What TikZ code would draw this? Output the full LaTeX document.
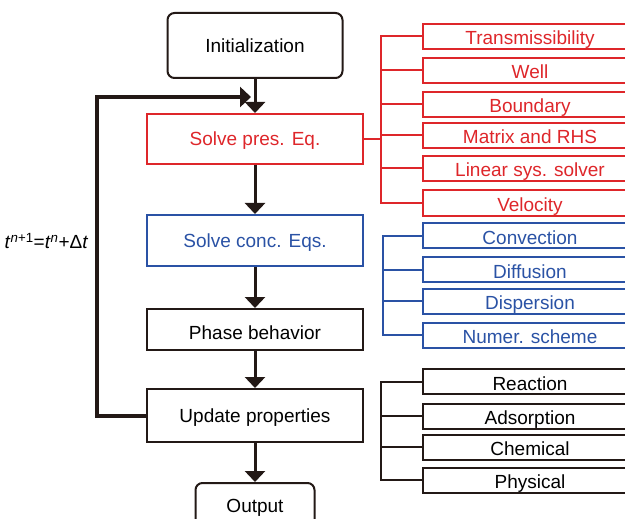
\documentclass[tikz,border=0pt]{standalone}
\usepackage{fontspec}
\setmainfont{Liberation Sans}
\usetikzlibrary{arrows.meta}
\definecolor{presred}{RGB}{222,38,42}
\definecolor{concblue}{RGB}{42,82,165}
\definecolor{boxblack}{RGB}{35,25,22}
\begin{document}
\begin{tikzpicture}[x=1pt,y=-1pt,
  font=\fontsize{19}{20}\selectfont,
  mainbox/.style={draw=boxblack,line width=2pt,minimum width=216pt,inner sep=0pt,text height=14pt,text depth=0pt},
  subbox/.style={draw,line width=2pt,minimum width=214pt,minimum height=25pt,inner sep=0pt,text height=17pt,text depth=0pt},
  flow/.style={line width=3pt,boxblack,-{Triangle[width=20pt,length=11pt]}},
  branch/.style={line width=2pt}]
  \useasboundingbox (0,0) rectangle (625,519);
  \clip (0,0) rectangle (625,519);
  % main chain
  \node[mainbox,rounded corners=7pt,minimum width=175pt,minimum height=65pt] (init) at (255,45.5) {Initialization};
  \node[mainbox,draw=presred,text=presred,minimum height=50pt] (pres) at (255,139) {Solve pres. Eq.};
  \node[mainbox,draw=concblue,text=concblue,minimum height=51pt] (conc) at (255,240.5) {Solve conc. Eqs.};
  \node[mainbox,minimum height=41pt,text height=20pt] (phase) at (255,329.5) {Phase behavior};
  \node[mainbox,minimum height=53pt] (update) at (255,415.5) {Update properties};
  \node[mainbox,rounded corners=7pt,minimum width=119pt,minimum height=44pt] (output) at (255,505) {Output};
  \draw[flow] (init) -- (pres);
  \draw[flow] (pres) -- (conc);
  \draw[flow] (conc) -- (phase);
  \draw[flow] (phase) -- (update);
  \draw[flow] (update) -- (output);
  % time loop
  \coordinate (loopend) at (251,97);
  \draw[flow,line width=4pt] (update.west) -- (97,415.5) -- (97,97) -- (loopend);
  \node (timestep) at (46.5,241) {\textit{t}\textsuperscript{\textit{n}+1}=\textit{t}\textsuperscript{\textit{n}}+Δ\textit{t}};
  % pressure sub-steps
  \begin{scope}[presred]
  \node[subbox,text=presred] (trans) at (530,36.5) {Transmissibility};
  \node[subbox,text=presred] (well) at (530,70.5) {Well};
  \node[subbox,text=presred] (bound) at (530,104.5) {Boundary};
  \node[subbox,text=presred] (matrix) at (530,135.5) {Matrix and RHS};
  \node[subbox,text=presred] (linsolve) at (530,168.5) {Linear sys. solver};
  \node[subbox,text=presred] (veloc) at (530,203) {Velocity};
  \coordinate (presbar) at (381,139);
  \draw[branch] (pres.east) -- (presbar);
  \draw[branch] (trans.west) -| (381,36.5) |- (veloc.west);
  \draw[branch] (well.west) -- (381,70.5);
  \draw[branch] (bound.west) -- (381,104.5);
  \draw[branch] (matrix.west) -- (381,135.5);
  \draw[branch] (linsolve.west) -- (381,168.5);
  \end{scope}
  % concentration sub-steps
  \begin{scope}[concblue]
  \node[subbox,text=concblue] (convec) at (530,235.5) {Convection};
  \node[subbox,text=concblue] (diffus) at (530,269.5) {Diffusion};
  \node[subbox,text=concblue] (dispers) at (530,301) {Dispersion};
  \node[subbox,text=concblue] (scheme) at (530,335) {Numer. scheme};
  \draw[branch] (convec.west) -| (383,235.5) |- (scheme.west);
  \draw[branch] (diffus.west) -- (383,269.5);
  \draw[branch] (dispers.west) -- (383,301);
  \end{scope}
  % property sub-steps
  \begin{scope}[boxblack]
  \node[subbox,text=black] (react) at (530,381.5) {Reaction};
  \node[subbox,text=black] (adsorb) at (530,416) {Adsorption};
  \node[subbox,text=black] (chem) at (530,447) {Chemical};
  \node[subbox,text=black] (phys) at (530,480) {Physical};
  \draw[branch] (react.west) -| (381,381.5) |- (phys.west);
  \draw[branch] (adsorb.west) -- (381,416);
  \draw[branch] (chem.west) -- (381,447);
  \end{scope}
\end{tikzpicture}
\end{document}
